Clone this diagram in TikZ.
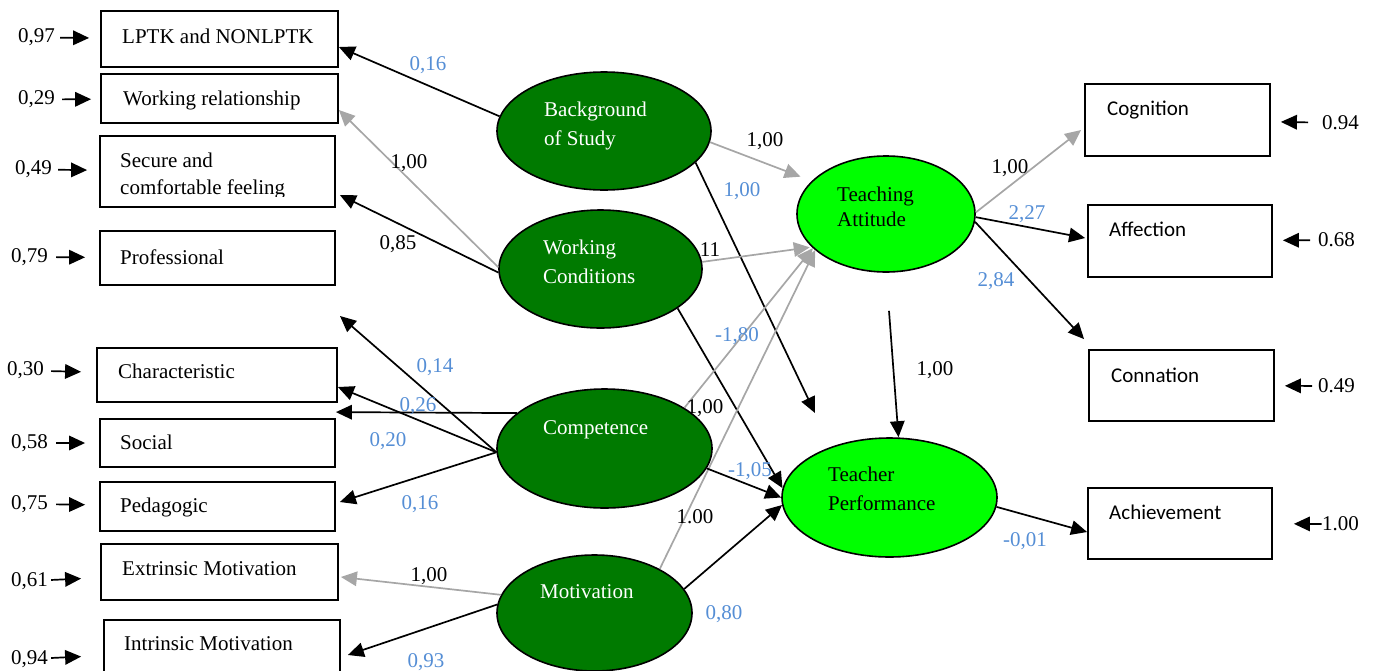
\documentclass[tikz,border=0pt]{standalone}
\usepackage{fontspec}
\setmainfont{Liberation Serif}
\newfontfamily\carlitofont{Carlito}
\usetikzlibrary{arrows.meta,shapes.geometric}
\definecolor{dkgreen}{RGB}{0,122,0}
\definecolor{ltgreen}{RGB}{0,255,0}
\definecolor{lblue}{RGB}{85,142,213}
\definecolor{lgray}{RGB}{166,166,166}
\begin{document}
\begin{tikzpicture}[x=1pt,y=-1pt,
  every node/.style={font=\fontsize{21}{25}\selectfont},
  box/.style={draw=black,line width=1.8pt,rectangle,inner sep=0pt},
  lat/.style={ellipse,draw=black,line width=1.6pt,fill=dkgreen,inner sep=0pt},
  lat2/.style={ellipse,draw=black,line width=1.6pt,fill=ltgreen,inner sep=0pt},
  tx/.style={inner sep=0pt,anchor=west,align=left},
  rtx/.style={tx,font=\carlitofont\fontsize{21}{25}\selectfont},
  lab/.style={inner sep=0pt},
  blab/.style={lab,text=lblue},
  con/.style={line width=1.7pt,draw=black,-{Triangle[length=16pt,width=14.5pt]}},
  gcon/.style={con,draw=lgray}
]
\useasboundingbox (0,0) rectangle (1377,670);

% left indicator boxes
\node[box,minimum width=237pt,minimum height=56pt] (lptk) at (219.5,39) {};
\node[box,minimum width=237pt,minimum height=49pt] (workrel) at (219.5,98.5) {};
\node[box,minimum width=235pt,minimum height=71pt] (secure) at (217.5,171.5) {};
\node[box,minimum width=235pt,minimum height=54pt] (prof) at (217.5,258) {};
\node[box,minimum width=240pt,minimum height=54pt] (charac) at (217,375) {};
\node[box,minimum width=235pt,minimum height=48pt] (social) at (217.5,443) {};
\node[box,minimum width=235pt,minimum height=49pt] (peda) at (217.5,506.5) {};
\node[box,minimum width=237pt,minimum height=56pt] (extr) at (219.5,572) {};
\node[box,minimum width=236pt,minimum height=60pt] (intr) at (222,650) {};

\node[tx] (lptkt) at (122,36.5) {LPTK and NONLPTK};
\node[tx] (workrelt) at (123,100) {Working relationship};
\begin{scope}
\clip (100,140) rectangle (335,196);
\node[tx,font=\fontsize{21}{27}\selectfont] (securet) at (120,175.6) {Secure and\\comfortable feeling};
\end{scope}
\node[tx] (proft) at (120,257.3) {Professional};
\node[tx] (charact) at (118,371) {Characteristic};
\node[tx] (socialt) at (120,442) {Social};
\node[tx] (pedat) at (120,507) {Pedagogic};
\node[tx] (extrt) at (122,569) {Extrinsic Motivation};
\node[tx] (intrt) at (124,644) {Intrinsic Motivation};

% right indicator boxes
\node[box,minimum width=185pt,minimum height=72pt] (cog) at (1177.5,120) {};
\node[box,minimum width=184pt,minimum height=72pt] (aff) at (1180,241) {};
\node[box,minimum width=185pt,minimum height=71pt] (conn) at (1181.5,385.5) {};
\node[box,minimum width=184pt,minimum height=71pt] (ach) at (1180,523.5) {};
\node[rtx] (cogt) at (1107,110.3) {Cognition};
\node[rtx] (afft) at (1109,229) {Affection};
\node[rtx] (connt) at (1111,375) {Connation};
\node[rtx] (acht) at (1109,512) {Achievement};

% latent variables
\node[lat,minimum width=214pt,minimum height=118pt] (bos) at (604,131) {};
\node[lat,minimum width=203pt,minimum height=118pt] (wc) at (600.5,269) {};
\node[lat,minimum width=215pt,minimum height=119pt] (comp) at (604.5,448.5) {};
\node[lat,minimum width=195pt,minimum height=116pt] (mot) at (594.5,613) {};
\node[lat2,minimum width=178pt,minimum height=116pt] (ta) at (886,214) {};
\node[lat2,minimum width=215pt,minimum height=119pt] (tp) at (889.5,497.5) {};

\node[tx,text=white,font=\fontsize{21}{29}\selectfont] (bost) at (544,125.6) {Background\\of Study};
\node[tx,text=white,font=\fontsize{21}{29}\selectfont] (wct) at (543,261.4) {Working\\Conditions};
\node[tx,text=white] (compt) at (543,429.3) {Competence};
\node[tx,text=white] (mott) at (540,592) {Motivation};
\node[tx,font=\fontsize{21}{25.6}\selectfont] (tat) at (837,207) {Teaching\\Attitude};
\node[tx,font=\fontsize{21}{28.3}\selectfont] (tpt) at (828,488.7) {Teacher\\Performance};

% free ends
\coordinate (free1) at (340,316);
\coordinate (free2) at (815,413);

% connectors to left boxes
\draw[con] (bos.172) -- ([yshift=-8pt]lptk.east);
\draw[gcon] (wc.179) -- ([yshift=-11.5pt]workrel.east);
\draw[con] (wc.182) -- ([xshift=4pt,yshift=-23.5pt]secure.east);
\draw[con] (comp.182) -- (free1);
\draw[con] (comp.182) -- ([yshift=-12pt]charac.east);
\draw[con] (comp.158) -- ([yshift=6pt]social.north east);
\draw[con] (comp.182) -- ([xshift=4pt,yshift=4.5pt]peda.east);
\draw[gcon] (mot.169) -- ([xshift=2pt,yshift=-5pt]extr.east);
\draw[con] (mot.175) -- ([xshift=7pt,yshift=-5pt]intr.east);

% structural paths
\draw[gcon,shorten >=12pt] (bos.354) -- (ta.156);
\draw[con] (bos.341) -- (free2);
\draw[gcon,shorten >=2pt] (wc.4) -- (ta.204);
\draw[con] (wc.333) -- (tp.175);
\draw[gcon] (comp.27) -- (ta.205);
\draw[gcon] (mot.34) -- (ta.207);
\draw[con] (comp.349) -- (tp.180);
\draw[con] (mot.15) -- (tp.184);
\draw[con] ([xshift=3pt,yshift=-38pt]ta.south) -- ([xshift=9pt]tp.north);

% connectors to right boxes
\draw[gcon] (ta.1) -- ([xshift=-3pt,yshift=-10pt]cog.west);
\draw[con] (ta.-2) -- ([xshift=-2pt,yshift=3pt]aff.west);
\draw[con] (ta.-5) -- ([xshift=-4pt,yshift=10pt]conn.north west);
\draw[con] (tp.-5) -- ([yshift=-8.5pt]ach.west);

% left residuals
\node[lab,anchor=west] (n097) at (18,37.5) {0,97};
\node[lab,anchor=west] (n029) at (18,99.5) {0,29};
\node[lab,anchor=west] (n049) at (15,169.5) {0,49};
\node[lab,anchor=west] (n079) at (11,257) {0,79};
\node[lab,anchor=west] (n030) at (7,370.5) {0,30};
\node[lab,anchor=west] (n058) at (11,443) {0,58};
\node[lab,anchor=west] (n075) at (11,504) {0,75};
\node[lab,anchor=west] (n061) at (11,581) {0,61};
\node[lab,anchor=west] (n094) at (11,659) {0,94};
\draw[con,shorten <=5pt,shorten >=11pt] (n097) -- (lptk);
\draw[con,shorten <=7pt,shorten >=9pt] (n029) -- (workrel);
\draw[con,shorten <=6pt,shorten >=12pt] (n049) -- (secure);
\draw[con,shorten <=8pt,shorten >=14pt] (n079) -- (prof);
\draw[con,shorten <=7pt,shorten >=15pt] (n030) -- (charac);
\draw[con,shorten <=8pt,shorten >=14pt] (n058) -- (social);
\draw[con,shorten <=8pt,shorten >=14pt] (n075) -- (peda);
\draw[con,shorten <=3pt,shorten >=19pt] (n061) -- (extr);
\draw[con,shorten <=3pt,shorten >=22pt] (n094) -- (intr);

% right residuals
\node[lab,anchor=west] (r094) at (1322,123) {0.94};
\node[lab,anchor=west] (r068) at (1318,240) {0.68};
\node[lab,anchor=west] (r049) at (1318,386) {0.49};
\node[lab,anchor=west] (r100) at (1322,524) {1.00};
\draw[con,shorten <=14pt,shorten >=10pt] (r094) -- (cog);
\draw[con,shorten <=8pt,shorten >=10pt] (r068) -- (aff);
\draw[con,shorten <=6pt,shorten >=10pt] (r049) -- (conn);
\draw[con,shorten <=0.5pt,shorten >=21pt] (r100) -- (ach);

% path labels
\node[blab] (l1) at (428,65) {0,16};
\node[lab] (l2) at (409,163) {1,00};
\node[lab] (l3) at (398,244) {0,85};
\node[blab] (l4) at (435,367) {0,14};
\node[blab] (l5) at (418,406) {0,26};
\node[blab] (l6) at (388,441) {0,20};
\node[blab] (l7) at (420,504) {0,16};
\node[lab] (l8) at (429,576) {1,00};
\node[blab] (l9) at (426,662) {0,93};
\node[lab] (l10) at (765,141) {1,00};
\node[blab] (l11) at (742,191) {1,00};
\node[lab] (l12) at (710,250) {11};
\node[blab] (l13) at (737,336) {-1,80};
\node[lab] (l14) at (705,408) {1,00};
\node[blab] (l15) at (750,471) {-1,05};
\node[lab] (l16) at (695,517) {1.00};
\node[blab] (l17) at (724,614) {0,80};
\node[lab] (l18) at (935,370) {1,00};
\node[lab] (l19) at (1010,168) {1,00};
\node[blab] (l20) at (1027,214) {2,27};
\node[blab] (l21) at (996,281) {2,84};
\node[blab] (l22) at (1025,541) {-0,01};
\end{tikzpicture}
\end{document}
